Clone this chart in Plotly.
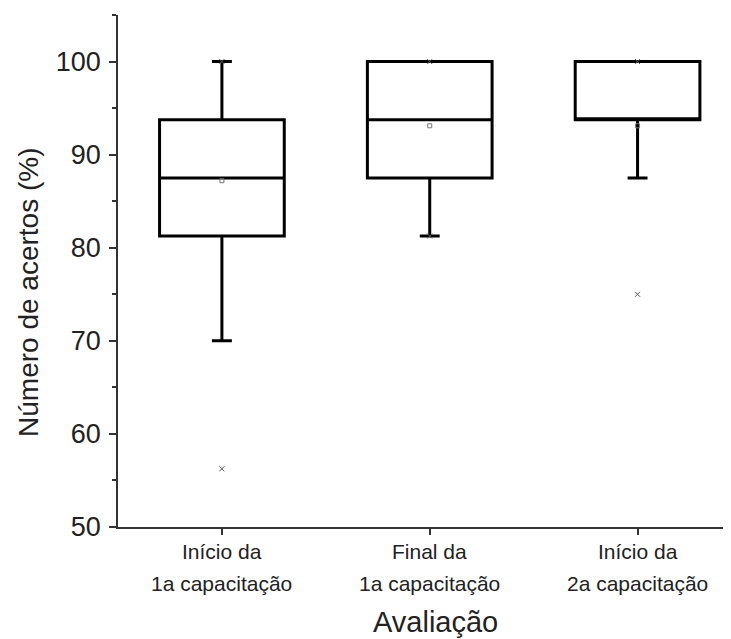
import plotly.graph_objects as go

category_line1 = ["Início da", "Final da", "Início da"]
category_line2 = ["1a capacitação", "1a capacitação", "2a capacitação"]
positions = [1, 2, 3]
q1 = [81.25, 87.5, 93.75]
median = [87.5, 93.75, 93.75]
q3 = [93.75, 100, 100]
lower_whisker = [70, 81.25, 87.5]
upper_whisker = [100, 100, 100]
means = [87.2, 93.1, 93.1]
minimums = [56.25, 81.25, 75]
maximums = [100, 100, 100]
y_ticks = [50, 60, 70, 80, 90, 100]

FONT = "Liberation Sans, Arial, sans-serif"
TXT = "#222222"
AX = "#333333"

fig = go.Figure()
fig.add_trace(go.Box(
    x=positions, q1=q1, median=median, q3=q3,
    lowerfence=lower_whisker, upperfence=upper_whisker,
    width=0.6, whiskerwidth=0.16, boxpoints=False,
    fillcolor="rgba(0,0,0,0)", line=dict(color="black", width=3),
    showlegend=False, hoverinfo="skip",
))
fig.add_trace(go.Scatter(
    x=positions, y=means, mode="markers", showlegend=False,
    marker=dict(symbol="square-open", size=4, color="#777777", line=dict(width=1)),
))
fig.add_trace(go.Scatter(
    x=positions + positions, y=minimums + maximums, mode="markers", showlegend=False,
    marker=dict(symbol="x-thin-open", size=5, color="#555555", line=dict(width=1, color="#555555")),
))

annotations = [
    dict(text="Número de acertos (%)", textangle=-90, xref="paper", yref="paper",
         x=-0.1457, y=0.459, showarrow=False, font=dict(size=28, color=TXT),
         xanchor="center", yanchor="middle"),
    dict(text="Avaliação", xref="paper", yref="paper",
         x=0.52, y=-0.1855, showarrow=False, font=dict(size=29, color=TXT),
         xanchor="center", yanchor="middle"),
]
for p, l1, l2 in zip(positions, category_line1, category_line2):
    annotations.append(dict(text=l1, xref="x", yref="paper", x=p, y=-0.0469,
                            showarrow=False, font=dict(size=21, color=TXT),
                            xanchor="center", yanchor="middle"))
    annotations.append(dict(text=l2, xref="x", yref="paper", x=p, y=-0.1094,
                            showarrow=False, font=dict(size=21, color=TXT),
                            xanchor="center", yanchor="middle"))

fig.update_layout(
    width=723, height=631,
    margin=dict(l=110, r=2, t=7, b=112),
    paper_bgcolor="white", plot_bgcolor="white",
    font=dict(family=FONT, color=TXT),
    xaxis=dict(
        range=[0.5, 3.44], tickvals=positions, showticklabels=False,
        showline=True, linecolor=AX, linewidth=1.5,
        ticks="outside", ticklen=6, tickcolor=AX, tickwidth=1.5,
        showgrid=False, zeroline=False,
    ),
    yaxis=dict(
        range=[50, 105], tickvals=y_ticks,
        showline=True, linecolor=AX, linewidth=1.5,
        ticks="outside", ticklen=7, tickcolor=AX, tickwidth=1.5,
        ticklabelstandoff=3,
        minor=dict(ticks="outside", ticklen=4, dtick=5, tick0=0, tickcolor=AX, tickwidth=1.5),
        tickfont=dict(size=27, color=TXT), showgrid=False, zeroline=False,
    ),
    annotations=annotations,
)

fig.write_html("out.html")
